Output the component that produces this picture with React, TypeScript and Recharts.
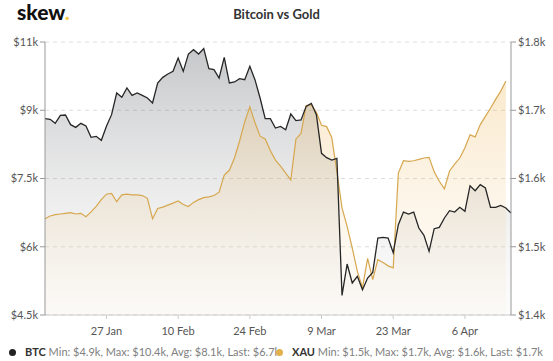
import {
  Area,
  CartesianGrid,
  ComposedChart,
  Line,
  XAxis,
  YAxis,
} from "recharts";

const DAY = 86400000;
const startDate = Date.UTC(2020, 0, 15);

// BTC daily close, USD
const btc = [
  8815, 8800, 8712, 8888, 8895, 8683, 8624, 8712, 8654, 8405, 8427, 8339, 8646, 8903, 9379, 9284,
  9489, 9328, 9379, 9328, 9269, 9159, 9599, 9723, 9797, 9855, 10148, 9855, 10236, 10332, 10236, 10354,
  9914, 9892, 9709, 10163, 9599, 9621, 9694, 9672, 9965, 9672, 9269, 8815, 8815, 8610, 8646, 8573,
  8918, 8771, 8786, 9086, 9152, 8900, 8053, 7957, 7906, 7943, 4930, 5620, 5203, 5349, 5056, 5312,
  5437, 6192, 6206, 6192, 5870, 6485, 6763, 6720, 6763, 6412, 6250, 5899, 6397, 6426, 6632, 6793,
  6763, 6866, 6778, 7342, 7232, 7364, 7291, 6866, 6866, 6910, 6851, 6741,
];

// Gold, USD/oz
const xau = [
  1541, 1545, 1547, 1548, 1549, 1550, 1548, 1549, 1544, 1551, 1559, 1569, 1577, 1578, 1566, 1576,
  1577, 1576, 1576, 1575, 1571, 1541, 1556, 1558, 1561, 1564, 1567, 1562, 1559, 1565, 1569, 1572,
  1573, 1575, 1580, 1605, 1612, 1630, 1655, 1683, 1705, 1682, 1662, 1658, 1641, 1627, 1618, 1608,
  1598, 1658, 1666, 1707, 1708, 1697, 1678, 1676, 1660, 1610, 1557, 1530, 1498, 1464, 1440, 1483,
  1452, 1481, 1477, 1472, 1469, 1608, 1626, 1625, 1626, 1628, 1630, 1631, 1610, 1596, 1585, 1611,
  1621, 1630, 1645, 1664, 1661, 1679, 1691, 1703, 1716, 1728, 1743, null,
];

const xTicks = [
  Date.UTC(2020, 0, 27),
  Date.UTC(2020, 1, 10),
  Date.UTC(2020, 1, 24),
  Date.UTC(2020, 2, 9),
  Date.UTC(2020, 2, 23),
  Date.UTC(2020, 3, 6),
];
const btcTicks = [4500, 6000, 7500, 9000, 10500];
const xauTicks = [1400, 1500, 1600, 1700, 1800];
const months = ["Jan", "Feb", "Mar", "Apr", "May"];

const btcLegend = "Min: $4.9k, Max: $10.4k, Avg: $8.1k, Last: $6.7k";
const xauLegend = "Min: $1.5k, Max: $1.7k, Avg: $1.6k, Last: $1.7k";

const data = btc.map((v, i) => ({ t: startDate + i * DAY, btc: v, xau: xau[i] }));

const fmtK = (v: number) => "$" + Number((v / 1000).toPrecision(2)) + "k";
const fmtDate = (t: number) => {
  const d = new Date(t);
  return d.getUTCDate() + " " + months[d.getUTCMonth()];
};

const font = "Lato, 'Open Sans', sans-serif";
const tick = { fontSize: 11, fill: "#555", fontFamily: font };

export default function App() {
  return (
    <div style={{ position: "relative", width: 553, height: 361, background: "#fff", fontFamily: font }}>
      <style>{`body{margin:0}`}</style>
      <div style={{ position: "absolute", left: 17, top: 1, fontSize: 21, fontWeight: 900, color: "#111", lineHeight: "22px" }}>
        skew<span style={{ color: "#f2c94c" }}>.</span>
      </div>
      <div style={{ position: "absolute", left: 0, width: 553, top: 6, textAlign: "center", fontSize: 13, fontWeight: 700, color: "#333", lineHeight: "16px" }}>
        Bitcoin vs Gold
      </div>

      <div style={{ position: "absolute", left: 0, top: 0 }}>
        <ComposedChart width={553} height={345} data={data} margin={{ top: 42, right: 0, bottom: 0, left: 0 }}>
          <defs>
            <linearGradient id="btcFill" x1="0" y1="0" x2="0" y2="1">
              <stop offset="0%" stopColor="#5c5f66" stopOpacity={0.58} />
              <stop offset="100%" stopColor="#c8c8c8" stopOpacity={0.08} />
            </linearGradient>
            <linearGradient id="xauFill" x1="0" y1="0" x2="0" y2="1">
              <stop offset="0%" stopColor="#eeb450" stopOpacity={0.48} />
              <stop offset="100%" stopColor="#f0d2a0" stopOpacity={0.1} />
            </linearGradient>
          </defs>
          <CartesianGrid yAxisId="left" vertical={false} stroke="#dcdcdc" strokeDasharray="4 4" />
          <XAxis
            dataKey="t"
            type="number"
            domain={["dataMin", "dataMax"]}
            ticks={xTicks}
            tickFormatter={fmtDate}
            height={30}
            tick={tick}
            tickSize={4}
            tickMargin={8}
            stroke="#ccc"
          />
          <YAxis
            yAxisId="left"
            domain={[4500, 10500]}
            ticks={btcTicks}
            tickFormatter={fmtK}
            width={45}
            tick={tick}
            tickSize={5}
            stroke="#999"
          />
          <YAxis
            yAxisId="right"
            orientation="right"
            domain={[1400, 1800]}
            ticks={xauTicks}
            tickFormatter={fmtK}
            width={42}
            tick={tick}
            tickSize={5}
            stroke="#999"
          />
          <Area yAxisId="left" dataKey="btc" stroke="none" fill="url(#btcFill)" isAnimationActive={false} />
          <Area yAxisId="right" dataKey="xau" stroke="none" fill="url(#xauFill)" isAnimationActive={false} />
          <Line yAxisId="right" dataKey="xau" stroke="#d6a74e" strokeWidth={1.2} dot={false} isAnimationActive={false} />
          <Line yAxisId="left" dataKey="btc" stroke="#262626" strokeWidth={1.3} dot={false} isAnimationActive={false} />
        </ComposedChart>
      </div>

      <div style={{ position: "absolute", top: 344, left: 0, width: 553, height: 16, fontSize: 11, lineHeight: "16px", color: "#808080", whiteSpace: "nowrap" }}>
        <span style={{ position: "absolute", left: 9, top: 5, width: 7, height: 7, borderRadius: 4, background: "#222" }} />
        <span style={{ position: "absolute", left: 25 }}>
          <b style={{ color: "#333" }}>BTC</b> {btcLegend}
        </span>
        <span style={{ position: "absolute", left: 276, top: 5, width: 7, height: 7, borderRadius: 4, background: "#e3b14a" }} />
        <span style={{ position: "absolute", left: 292 }}>
          <b style={{ color: "#333" }}>XAU</b> {xauLegend}
        </span>
      </div>
    </div>
  );
}
